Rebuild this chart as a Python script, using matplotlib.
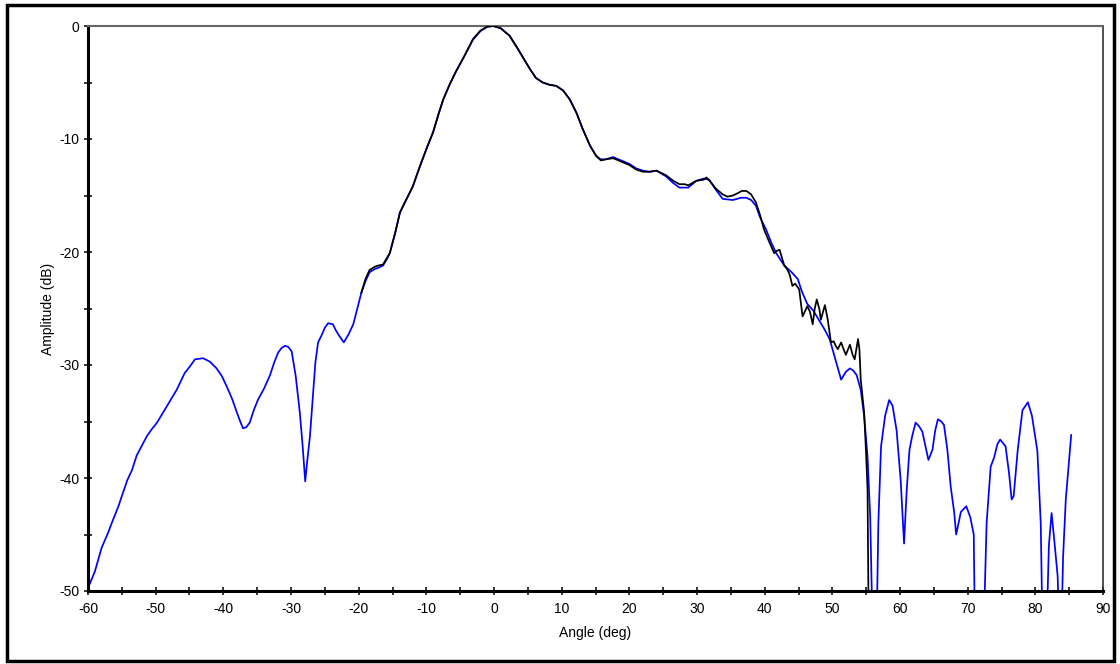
import numpy as np
import matplotlib
matplotlib.use("Agg")
import matplotlib.pyplot as plt
from matplotlib.patches import Rectangle
from matplotlib.ticker import MultipleLocator

plt.rcParams['font.family'] = ['Liberation Sans', 'DejaVu Sans']
plt.rcParams['axes.unicode_minus'] = False

# Simulated pattern (blue)
sim_angle = [-60.0, -59.7, -59.0, -58.0, -57.0, -56.5, -55.5, -55.0, -54.2, -53.5, -52.8, -52.1,
             -51.3, -50.6, -49.8, -48.9, -47.9, -46.9, -45.7, -44.9, -44.2, -43.0, -42.0, -41.0,
             -40.2, -39.5, -38.7, -38.0, -37.5, -37.1, -36.6, -36.1, -35.5, -34.9, -34.0, -33.1,
             -32.5, -31.9, -31.4, -30.9, -30.4, -29.9, -29.3, -28.7, -28.3, -27.9, -27.6, -27.2,
             -26.8, -26.4, -26.0, -25.5, -25.0, -24.5, -23.8, -23.4, -23.0, -22.2, -21.5, -20.8,
             -20.2, -19.6, -19.0, -18.4, -17.6, -17.1, -16.4, -15.8, -15.4, -14.6, -13.9, -13.0,
             -12.0, -11.0, -10.0, -9.0, -8.2, -7.5, -6.5, -5.6, -4.5, -3.1, -2.0, -1.0, -0.1,
             1.0, 2.3, 3.5, 4.5, 5.3, 6.2, 7.2, 8.2, 9.2, 10.2, 11.2, 12.2, 13.1, 14.2, 15.1,
             15.8, 16.5, 17.6, 18.8, 20.0, 21.0, 22.0, 23.0, 24.0, 25.4, 26.5, 27.4, 28.7, 29.9,
             31.0, 31.8, 32.8, 33.8, 35.3, 36.5, 37.3, 38.0, 38.7, 39.3, 40.2, 41.0, 41.7, 42.9,
             44.0, 44.9, 45.5, 46.3, 47.2, 48.1, 48.8, 49.6, 50.4, 51.3, 52.0, 52.6, 53.1, 53.6,
             54.2, 54.7, 55.2, 55.6, 56.0, 56.5, 56.8, 57.2, 57.8, 58.4, 58.9, 59.5, 60.1, 60.6,
             61.0, 61.4, 61.8, 62.3, 62.8, 63.3, 63.8, 64.2, 64.8, 65.2, 65.6, 66.1, 66.5, 67.0,
             67.5, 68.0, 68.3, 69.0, 69.8, 70.4, 70.9, 71.1, 72.3, 72.8, 73.4, 73.9, 74.4, 74.8,
             75.6, 76.1, 76.5, 76.8, 77.4, 78.1, 78.9, 79.5, 80.3, 80.8, 81.1, 81.6, 82.0, 82.4,
             82.8, 83.3, 83.6, 83.8, 84.1, 84.5, 85.3]
sim_db = [-49.7, -49.3, -48.3, -46.2, -44.8, -44.0, -42.5, -41.6, -40.2, -39.3, -38.0, -37.2,
          -36.3, -35.7, -35.1, -34.2, -33.2, -32.2, -30.7, -30.1, -29.5, -29.4, -29.7, -30.3,
          -31.0, -31.9, -33.0, -34.2, -35.0, -35.6, -35.5, -35.1, -34.0, -33.1, -32.1, -30.9,
          -29.8, -28.9, -28.5, -28.3, -28.4, -28.8, -31.0, -34.2, -37.0, -40.3, -38.5, -36.3,
          -33.0, -29.8, -28.0, -27.4, -26.7, -26.3, -26.4, -26.9, -27.3, -28.0, -27.3, -26.4,
          -25.0, -23.6, -22.6, -21.8, -21.5, -21.4, -21.2, -20.6, -20.1, -18.3, -16.5, -15.4,
          -14.2, -12.5, -10.9, -9.4, -7.8, -6.5, -5.1, -4.0, -2.8, -1.2, -0.45, -0.08, 0.0,
          -0.2, -0.86, -2.0, -3.0, -3.8, -4.6, -5.0, -5.2, -5.3, -5.7, -6.5, -7.7, -9.1, -10.6, -11.5,
          -11.8, -11.8, -11.6, -11.9, -12.2, -12.6, -12.8, -12.9, -12.8, -13.3, -13.9, -14.3, -14.3, -13.7,
          -13.5, -13.6, -14.5, -15.3, -15.4, -15.2, -15.2, -15.4, -15.9, -16.9, -18.0, -19.2, -20.1, -21.2,
          -21.8, -22.4, -23.5, -24.6, -25.2, -26.1, -26.8, -27.7, -29.4, -31.3, -30.6, -30.3, -30.5, -30.9,
          -32.2, -34.5, -38.1, -43.5, -55.0, -55.0, -44.0, -37.2, -34.5, -33.1, -33.6, -35.8, -40.2, -45.8,
          -41.0, -37.5, -36.3, -35.1, -35.4, -35.9, -37.3, -38.4, -37.5, -35.8, -34.8, -35.0, -35.3, -37.5,
          -40.8, -43.0, -45.0, -43.0, -42.5, -43.5, -45.0, -55.0, -55.0, -44.0, -39.0, -38.2, -37.0, -36.6,
          -37.2, -39.5, -41.9, -41.6, -37.5, -34.0, -33.3, -34.5, -37.6, -44.0, -55.0, -55.0, -46.0, -43.1,
          -45.5, -48.7, -55.0, -55.0, -47.0, -41.9, -36.2]

# Measured pattern (black)
meas_angle = [-19.6, -19.0, -18.4, -17.6, -17.1, -16.4, -15.8, -15.4, -14.6, -13.9, -13.0, -12.0,
              -11.0, -10.0, -9.0, -8.2, -7.5, -6.5, -5.6, -4.5, -3.1, -2.0, -1.0, -0.1, 1.0, 2.3,
              3.5, 4.5, 5.3, 6.2, 7.2, 8.2, 9.2, 10.2, 11.2, 12.2, 13.1, 14.2, 15.1, 15.8, 16.5,
              17.6, 18.8, 20.0, 21.0, 22.0, 23.0, 24.0, 25.4, 26.5, 27.4, 28.2, 28.7, 29.9, 31.0,
              31.4, 32.0, 32.8, 33.8, 34.5, 35.3, 36.0, 36.6, 37.3, 38.0, 38.7, 39.3, 39.9, 40.6,
              41.4, 41.8, 42.2, 42.5, 42.9, 43.3, 43.7, 44.1, 44.5, 45.1, 45.6, 46.3, 46.7, 47.1,
              47.4, 47.7, 48.1, 48.3, 48.9, 49.3, 49.8, 50.2, 50.5, 50.8, 51.3, 51.6, 52.0, 52.6,
              53.0, 53.3, 53.8, 54.0, 54.2, 54.7, 55.0, 55.2, 55.4]
meas_db = [-23.6, -22.4, -21.6, -21.3, -21.2, -21.1, -20.5, -20.1, -18.3, -16.5, -15.4, -14.2,
           -12.5, -10.9, -9.4, -7.8, -6.5, -5.1, -4.0, -2.8, -1.15, -0.4, -0.05, 0.0, -0.2, -0.86,
           -2.0, -3.0, -3.8, -4.6, -5.0, -5.2, -5.3, -5.7, -6.5, -7.7, -9.1, -10.6, -11.5, -11.9, -11.8,
           -11.7, -12.0, -12.3, -12.7, -12.9, -12.9, -12.8, -13.2, -13.7, -14.0, -14.0, -14.1, -13.7, -13.6,
           -13.4, -13.8, -14.4, -14.9, -15.1, -15.0, -14.8, -14.6, -14.6, -14.9, -15.6, -16.7, -18.0, -19.0,
           -20.1, -19.9, -19.8, -20.4, -21.2, -21.5, -22.0, -23.0, -22.8, -23.3, -25.7, -24.8, -25.3, -26.4,
           -25.0, -24.2, -25.1, -26.0, -24.7, -25.9, -28.0, -27.9, -28.3, -28.6, -28.0, -28.5, -29.1, -28.2,
           -29.1, -29.5, -27.7, -28.6, -31.3, -34.2, -38.0, -41.0, -55.0]

x_ticks = [-60, -50, -40, -30, -20, -10, 0, 10, 20, 30, 40, 50, 60, 70, 80, 90]
y_ticks = [0, -10, -20, -30, -40, -50]

fig = plt.figure(figsize=(11.2, 6.64), dpi=100)
ax = fig.add_axes([88/1120, 1 - 591/664, (1103 - 88)/1120, (591 - 26)/664])

ax.plot(sim_angle, sim_db, color='#0000ff', lw=1.25, zorder=2)
ax.plot(meas_angle, meas_db, color='black', lw=1.25, zorder=3)

ax.set_xlim(-60, 90)
ax.set_ylim(-50, 0)
ax.set_xticks(x_ticks)
ax.set_yticks(y_ticks)
ax.xaxis.set_minor_locator(MultipleLocator(5))
ax.yaxis.set_minor_locator(MultipleLocator(5))
ax.tick_params(axis='both', which='both', direction='inout', length=6, width=1.1,
               labelsize=10, pad=3)
ax.tick_params(axis='x', pad=5)

ax.spines['left'].set_linewidth(2.2)
ax.spines['bottom'].set_linewidth(2.2)
ax.spines['top'].set_color('#666666')
ax.spines['top'].set_linewidth(1.5)
ax.spines['right'].set_color('#333333')
ax.spines['right'].set_linewidth(1.2)

ax.set_xlabel('Angle (deg)', fontsize=10, labelpad=7)
ax.set_ylabel('Amplitude (dB)', fontsize=10, labelpad=3)

fig.patches.append(Rectangle((7/1120, 1 - 661/664), 1107/1120, 656/664,
                             transform=fig.transFigure, fill=False,
                             edgecolor='black', linewidth=2.5))

fig.savefig('out.png', dpi=100)
